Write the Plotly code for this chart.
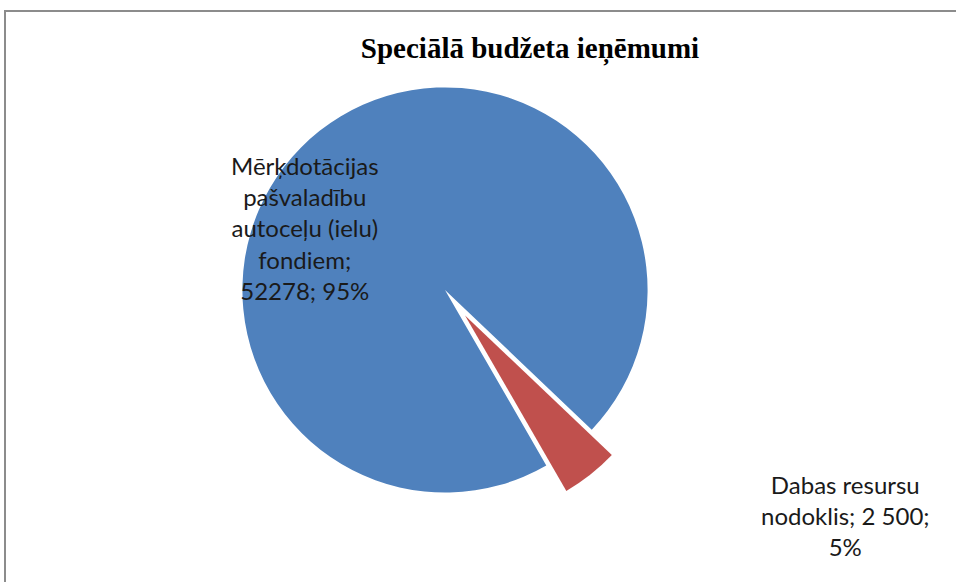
import plotly.graph_objects as go

labels = ["Mērķdotācijas pašvaladību autoceļu (ielu) fondiem", "Dabas resursu nodoklis"]
values = [52278, 2500]
value_text = ["52278", "2 500"]
colors = ["#4F81BD", "#C0504D"]
title = "Speciālā budžeta ieņēmumi"

W, H = 956, 582
total = sum(values)
pcts = [round(v / total * 100) for v in values]

fig = go.Figure()
fig.add_trace(go.Pie(
    labels=labels,
    values=values,
    sort=False,
    direction="clockwise",
    rotation=150,
    pull=[0, 0.16],
    marker=dict(colors=colors, line=dict(width=0)),
    textinfo="none",
    hoverinfo="label+value+percent",
    showlegend=False,
    domain=dict(x=[(445 - 235) / W, (445 + 235) / W], y=[1 - (290 + 235) / H, 1 - (290 - 235) / H]),
))

label_lines = [
    "Mērķdotācijas<br>pašvaladību<br>autoceļu (ielu)<br>fondiem;<br>{}; {}%".format(value_text[0], pcts[0]),
    "Dabas resursu<br>nodoklis; {};<br>{}%".format(value_text[1], pcts[1]),
]
label_pos = [(305, 228), (845, 515)]
for txt, (px, py) in zip(label_lines, label_pos):
    fig.add_annotation(
        x=px / W, y=1 - py / H, xref="paper", yref="paper",
        xanchor="center", yanchor="middle",
        text=txt, showarrow=False, align="center",
        font=dict(family="Lato, Open Sans, sans-serif", size=24, color="#1a1a1a"),
    )

fig.add_shape(type="rect", xref="paper", yref="paper",
              x0=5 / W, x1=1.02, y0=-0.02, y1=1 - 11 / H,
              line=dict(color="#8c8c8c", width=2), fillcolor="rgba(0,0,0,0)")

fig.update_layout(
    width=W, height=H,
    margin=dict(l=0, r=0, t=0, b=0),
    paper_bgcolor="white",
    title=dict(text="<b>" + title + "</b>", x=530 / W, xanchor="center",
               y=1 - 48 / H, yanchor="middle",
               font=dict(family="Liberation Serif, Times New Roman, serif", size=29, color="black")),
)

fig.write_html("out.html")
